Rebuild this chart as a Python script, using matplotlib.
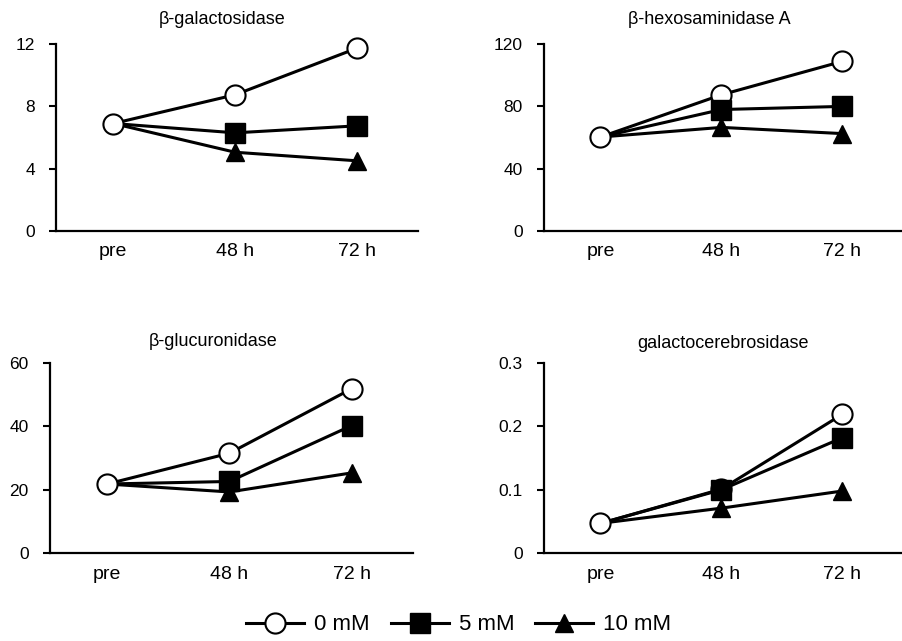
import matplotlib
matplotlib.use("Agg")
import matplotlib.pyplot as plt
from matplotlib.lines import Line2D

plt.rcParams['font.family'] = ['Liberation Sans', 'DejaVu Sans']

zeiten = ["pre", "48 h", "72 h"]
titel = ["β-galactosidase", "β-hexosaminidase A", "β-glucuronidase", "galactocerebrosidase"]

# Werte je Enzym: 0 mM, 5 mM, 10 mM
gal_0 = [6.9, 8.75, 11.75]
gal_5 = [6.9, 6.3, 6.75]
gal_10 = [6.9, 5.05, 4.5]

hex_0 = [60.3, 87.5, 109]
hex_5 = [60.3, 78, 80]
hex_10 = [60.3, 66.5, 62.5]

glu_0 = [21.8, 31.5, 51.8]
glu_5 = [21.8, 22.6, 40.2]
glu_10 = [21.8, 19.3, 25.3]

gc_0 = [0.047, 0.101, 0.219]
gc_5 = [0.047, 0.100, 0.182]
gc_10 = [0.047, 0.071, 0.098]

y_max = [12, 120, 60, 0.3]
y_ticks = [[0, 4, 8, 12], [0, 40, 80, 120], [0, 20, 40, 60], [0, 0.1, 0.2, 0.3]]
y_labels = [["0", "4", "8", "12"], ["0", "40", "80", "120"], ["0", "20", "40", "60"],
            ["0", "0.1", "0.2", "0.3"]]
daten = [(gal_0, gal_5, gal_10), (hex_0, hex_5, hex_10),
         (glu_0, glu_5, glu_10), (gc_0, gc_5, gc_10)]

fig = plt.figure(figsize=(9.03, 6.41), dpi=100)
positionen = [[0.062, 0.640, 0.401, 0.291], [0.602, 0.640, 0.398, 0.291],
              [0.055, 0.137, 0.402, 0.297], [0.602, 0.137, 0.398, 0.297]]
titel_x = [0.46, 0.46, 0.45, 0.50]
titel_y = [1.13, 1.13, 1.11, 1.10]

lw = 2.2
kreis = dict(marker="o", ms=14.5, mfc="white", mec="black", mew=1.5)
quadrat = dict(marker="s", ms=15, mfc="black", mec="black")
dreieck = dict(marker="^", ms=13.5, mfc="black", mec="black")

x = list(range(len(zeiten)))
for i in range(4):
    ax = fig.add_axes(positionen[i])
    s0, s5, s10 = daten[i]
    ax.plot(x, s10, color="black", lw=lw, markevery=[1, 2], zorder=3, clip_on=False, **dreieck)
    ax.plot(x, s0, color="black", lw=lw, markevery=[1, 2], zorder=2, clip_on=False, **kreis)
    ax.plot(x, s5, color="black", lw=lw, markevery=[1, 2], zorder=4, clip_on=False, **quadrat)
    ax.plot(x[:1], s0[:1], ls="none", zorder=5, clip_on=False, **kreis)
    ax.set_xlim(-0.47, 2.5)
    ax.set_ylim(0, y_max[i])
    ax.set_xticks(x)
    ax.set_xticklabels(zeiten, fontsize=14)
    ax.set_yticks(y_ticks[i])
    ax.set_yticklabels(y_labels[i], fontsize=12.5)
    ax.tick_params(axis="x", length=0, pad=9)
    ax.tick_params(axis="y", length=5, width=1.5, pad=10)
    for s in ["top", "right"]:
        ax.spines[s].set_visible(False)
    for s in ["left", "bottom"]:
        ax.spines[s].set_linewidth(1.6)
    ax.text(titel_x[i], titel_y[i], titel[i], transform=ax.transAxes,
            ha="center", va="center", fontsize=13)
    ax.patch.set_alpha(0)

handles = [
    Line2D([], [], color="black", lw=lw, **kreis),
    Line2D([], [], color="black", lw=lw, **quadrat),
    Line2D([], [], color="black", lw=lw, **dreieck),
]
fig.legend(handles, ["0 mM", "5 mM", "10 mM"], loc="center", bbox_to_anchor=(0.508, 0.025),
           ncol=3, frameon=False, fontsize=16, handlelength=2.6, columnspacing=0.95,
           handletextpad=0.45)

fig.savefig("out.png", dpi=100)
